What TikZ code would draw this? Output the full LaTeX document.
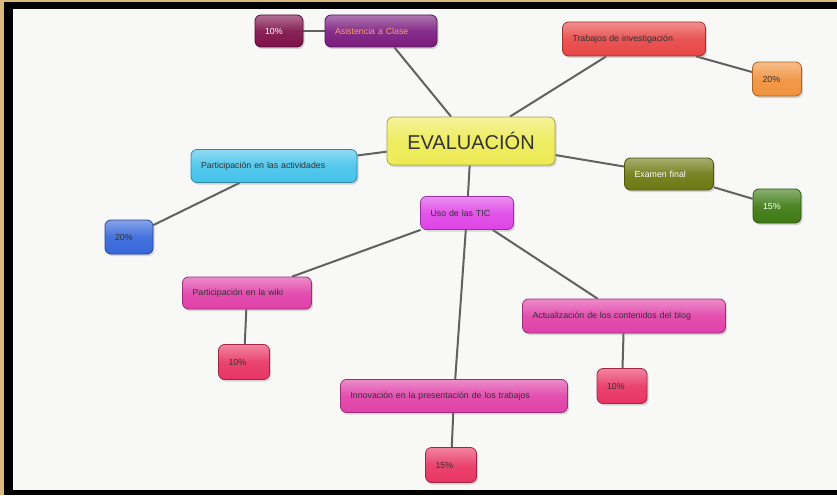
\documentclass[tikz,border=0pt]{standalone}
\usepackage{fontspec}
\setmainfont{Liberation Sans}
\usepackage{tikz}
\usetikzlibrary{positioning,
				shadows,
				backgrounds}

\definecolor{marco}{HTML}{D9B97C}
\definecolor{papel}{HTML}{F8F8F7}
\definecolor{amarillo}{HTML}{EDEB55}
\definecolor{morado}{HTML}{7B1C7E}
\definecolor{granate}{HTML}{7E1049}
\definecolor{rojo}{HTML}{E84545}
\definecolor{naranja}{HTML}{F0913C}
\definecolor{celeste}{HTML}{45C3EA}
\definecolor{azul}{HTML}{3566DA}
\definecolor{oliva}{HTML}{6B7A12}
\definecolor{verde}{HTML}{3D7A12}
\definecolor{magenta}{HTML}{DE45E6}
\definecolor{rosa}{HTML}{E040A8}
\definecolor{fresa}{HTML}{E83462}
\definecolor{letra}{HTML}{333333}
\definecolor{salmon}{HTML}{F6A070}

\tikzset{
  caja/.style={rectangle, rounded corners=6pt, draw=#1!70!black, line width=0.8pt,
    top color=#1!60!white, bottom color=#1, middle color=#1!92!white,
    drop shadow={shadow xshift=1.5pt, shadow yshift=-2pt, opacity=0.3},
    font=\fontsize{8.8}{10}\selectfont, text=letra, align=left,
    inner xsep=10pt, inner ysep=0pt},
  linea/.style={draw=black!62, line width=2pt}
}

\begin{document}
\begin{tikzpicture}[x=1pt,y=-1pt]
  % marco y fondo
  \begin{scope}[on background layer]
  \fill[marco] (0,0) rectangle (837,495);
  \fill[black] (4,2) rectangle (837,495);
  \fill[papel] (13,9) rectangle (837,490);
  \end{scope}

  % idea central
  \node[caja=amarillo, minimum width=168pt, minimum height=48pt, align=center,
        font=\fontsize{20}{22}\selectfont] (eval) at (471,141) {EVALUACIÓN};

  % ramas
  \node[caja=morado, text width=92pt, minimum height=32pt, text=salmon] (asist) at (381,31) {Asistencia a Clase};
  \node[caja=granate, text width=28pt, minimum height=32pt, text=white] (p10a) at (279,31) {10\%};
  \node[caja=rojo, text width=123pt, minimum height=34pt] (trab) at (634,39) {Trabajos de investigación};
  \node[caja=naranja, text width=29pt, minimum height=34pt] (p20a) at (777,79) {20\%};
  \node[caja=celeste, text width=146pt, minimum height=33pt] (activ) at (274,166) {Participación en las actividades};
  \node[caja=azul, text width=28pt, minimum height=34pt] (p20b) at (129,237) {20\%};
  \node[caja=oliva, text width=69pt, minimum height=32pt, text=white] (exam) at (669,174) {Examen final};
  \node[caja=verde, text width=28pt, minimum height=34pt, text=white] (p15a) at (777,206) {15\%};
  \node[caja=magenta, text width=73pt, minimum height=33pt] (tic) at (467,213) {Uso de las TIC};

  % subramas de las TIC
  \node[caja=rosa, text width=109pt, minimum height=32pt] (wiki) at (247,293) {Participación en la wiki};
  \node[caja=fresa, text width=31pt, minimum height=35pt] (p10b) at (244,362) {10\%};
  \node[caja=rosa, text width=183pt, minimum height=34pt] (blog) at (624,316) {Actualización de los contenidos del blog};
  \node[caja=fresa, text width=30pt, minimum height=35pt] (p10c) at (622,386) {10\%};
  \node[caja=rosa, text width=207pt, minimum height=33pt] (innov) at (454,396) {Innovación en la presentación de los trabajos};
  \node[caja=fresa, text width=31pt, minimum height=35pt] (p15b) at (451,465) {15\%};

  % conexiones
  \begin{scope}[on background layer]
  \draw[linea] (eval) -- (asist);
  \draw[linea] (asist) -- (p10a);
  \draw[linea] (eval) -- (trab);
  \draw[linea] (trab) -- (p20a);
  \draw[linea] (eval) -- (activ);
  \draw[linea] (activ) -- (p20b);
  \draw[linea] (eval) -- (exam);
  \draw[linea] (exam) -- (p15a);
  \draw[linea] (eval) -- (tic);
  \draw[linea] (tic) -- (wiki);
  \draw[linea] (wiki) -- (p10b);
  \draw[linea] (tic) -- (blog);
  \draw[linea] (blog) -- (p10c);
  \draw[linea] (tic) -- (innov);
  \draw[linea] (innov) -- (p15b);
  \end{scope}
\end{tikzpicture}
\end{document}
